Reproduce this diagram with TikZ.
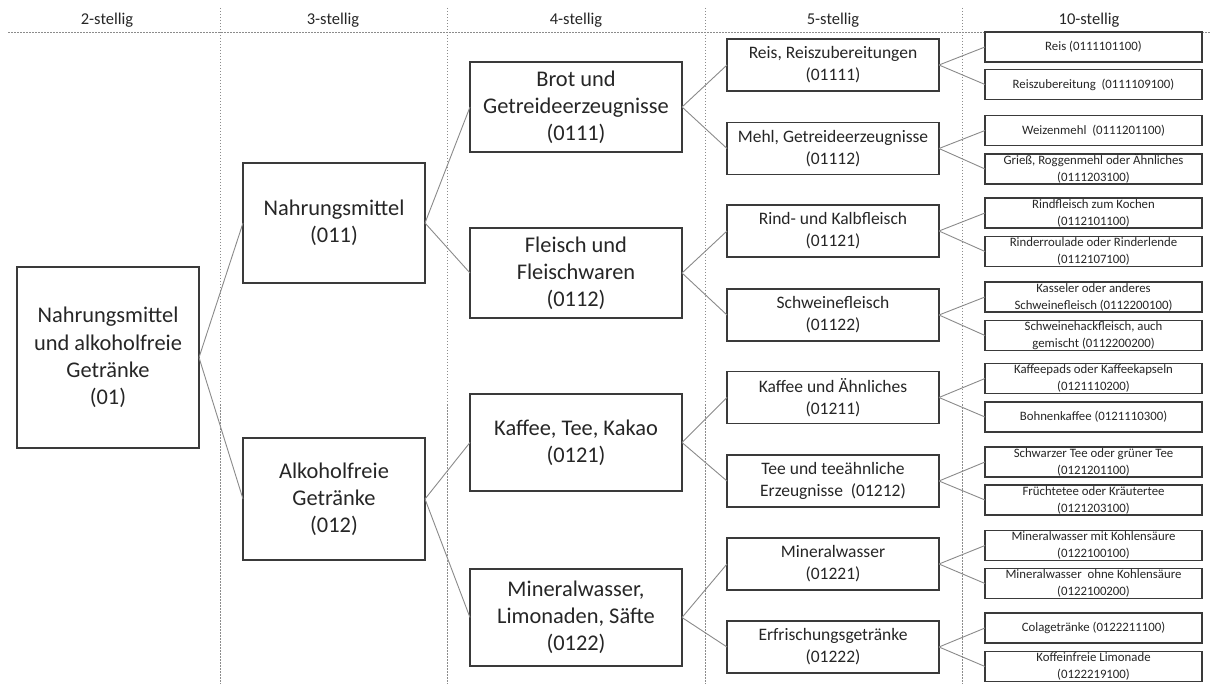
\documentclass[tikz,border=0pt]{standalone}
\usepackage{fontspec}
\setmainfont{Carlito}
\definecolor{boxc}{HTML}{3A3A3A}
\definecolor{txt}{HTML}{262626}
\definecolor{conc}{HTML}{8A8A8A}
\definecolor{divc}{HTML}{8C8C8C}
\tikzset{
  base/.style={draw=boxc, fill=white, text=txt, align=center, inner sep=0pt, outer sep=0pt},
  big/.style={base, line width=1.8pt, font=\fontsize{22.4}{27.2}\selectfont},
  mid/.style={base, line width=1.8pt, font=\fontsize{17.5}{22}\selectfont, minimum width=212pt, minimum height=52pt},
  small/.style={base, line width=1.5pt, font=\fontsize{12.8}{17}\selectfont, minimum width=217pt, minimum height=30pt},
  head/.style={text=txt, font=\fontsize{16.5}{20}\selectfont, inner sep=0pt},
  conn/.style={draw=conc, line width=0.9pt},
  divline/.style={draw=divc, line width=0.9pt, dash pattern=on 1.5pt off 1.5pt},
}
\begin{document}
\begin{tikzpicture}[x=1pt, y=-1pt]
\useasboundingbox (0,0) rectangle (1211,684);
% dividers
\draw[divline] (8,32) -- (1211,32);
\foreach \xx in {220,447,705,962} { \draw[divline] (\xx,8) -- (\xx,684); }
% headers
\node[head] (h2) at (107,20) {2-stellig};
\node[head] (h3) at (333,20) {3-stellig};
\node[head] (h4) at (576,20) {4-stellig};
\node[head] (h5) at (833,20) {5-stellig};
\node[head] (h10) at (1089,20) {10-stellig};
% 2-stellig
\node[big, minimum width=182pt, minimum height=181pt] (L) at (108,357.5) {Nahrungsmittel\\und alkoholfreie\\Getränke\\(01)};
% 3-stellig
\node[big, minimum width=182pt, minimum height=120pt] (N1) at (334,223) {Nahrungsmittel\\(011)};
\node[big, minimum width=182pt, minimum height=122pt] (N2) at (334,499) {Alkoholfreie\\Getränke\\(012)};
% 4-stellig
\node[big, minimum width=212pt, minimum height=90pt] (B1) at (576,107) {Brot und\\Getreideerzeugnisse\\(0111)};
\node[big, minimum width=212pt, minimum height=90pt] (B2) at (576,273) {Fleisch und\\Fleischwaren\\(0112)};
\node[big, minimum width=212pt, minimum height=97pt] (B3) at (576,442.5) {Kaffee, Tee, Kakao\\(0121)};
\node[big, minimum width=212pt, minimum height=97pt] (B4) at (576,617.5) {Mineralwasser,\\Limonaden, Säfte\\(0122)};
% 5-stellig
\node[mid] (C1) at (833,65) {Reis, Reiszubereitungen\\(01111)};
\node[mid] (C2) at (833,148.5) {Mehl, Getreideerzeugnisse\\(01112)};
\node[mid] (C3) at (833,231) {Rind- und Kalbfleisch\\(01121)};
\node[mid] (C4) at (833,315) {Schweinefleisch\\(01122)};
\node[mid] (C5) at (833,397.5) {Kaffee und Ähnliches\\(01211)};
\node[mid] (C6) at (833,481) {Tee und teeähnliche\\Erzeugnisse~ (01212)};
\node[mid] (C7) at (833,564) {Mineralwasser\\(01221)};
\node[mid] (C8) at (833,647) {Erfrischungsgetränke\\(01222)};
% 10-stellig
\node[small] (D1) at (1093.5,47) {Reis (0111101100)};
\node[small] (D2) at (1093.5,84.5) {Reiszubereitung~ (0111109100)};
\node[small] (D3) at (1093.5,130.5) {Weizenmehl~ (0111201100)};
\node[small] (D4) at (1093.5,169) {Grieß, Roggenmehl oder Ähnliches\\(0111203100)};
\node[small] (D5) at (1093.5,213) {Rindfleisch zum Kochen\\(0112101100)};
\node[small] (D6) at (1093.5,251.5) {Rinderroulade oder Rinderlende\\(0112107100)};
\node[small] (D7) at (1093.5,297) {Kasseler oder anderes\\Schweinefleisch (0112200100)};
\node[small] (D8) at (1093.5,335.5) {Schweinehackfleisch, auch\\gemischt (0112200200)};
\node[small] (D9) at (1093.5,378.5) {Kaffeepads oder Kaffeekapseln\\(0121110200)};
\node[small] (D10) at (1093.5,417) {Bohnenkaffee (0121110300)};
\node[small] (D11) at (1093.5,462) {Schwarzer Tee oder grüner Tee\\(0121201100)};
\node[small] (D12) at (1093.5,500) {Früchtetee oder Kräutertee\\(0121203100)};
\node[small] (D13) at (1093.5,545.5) {Mineralwasser mit Kohlensäure\\(0122100100)};
\node[small] (D14) at (1093.5,583.5) {Mineralwasser~ ohne Kohlensäure\\(0122100200)};
\node[small] (D15) at (1093.5,628) {Colagetränke (0122211100)};
\node[small] (D16) at (1093.5,666.5) {Koffeinfreie Limonade\\(0122219100)};
% connectors
\draw[conn] (L.east) -- (N1.west);
\draw[conn] (L.east) -- (N2.west);
\draw[conn] (N1.east) -- (B1.west);
\draw[conn] (N1.east) -- (B2.west);
\draw[conn] (N2.east) -- (B3.west);
\draw[conn] (N2.east) -- (B4.west);
\draw[conn] (B1.east) -- (C1.west);
\draw[conn] (B1.east) -- (C2.west);
\draw[conn] (B2.east) -- (C3.west);
\draw[conn] (B2.east) -- (C4.west);
\draw[conn] (B3.east) -- (C5.west);
\draw[conn] (B3.east) -- (C6.west);
\draw[conn] (B4.east) -- (C7.west);
\draw[conn] (B4.east) -- (C8.west);
\draw[conn] (C1.east) -- (D1.west);
\draw[conn] (C1.east) -- (D2.west);
\draw[conn] (C2.east) -- (D3.west);
\draw[conn] (C2.east) -- (D4.west);
\draw[conn] (C3.east) -- (D5.west);
\draw[conn] (C3.east) -- (D6.west);
\draw[conn] (C4.east) -- (D7.west);
\draw[conn] (C4.east) -- (D8.west);
\draw[conn] (C5.east) -- (D9.west);
\draw[conn] (C5.east) -- (D10.west);
\draw[conn] (C6.east) -- (D11.west);
\draw[conn] (C6.east) -- (D12.west);
\draw[conn] (C7.east) -- (D13.west);
\draw[conn] (C7.east) -- (D14.west);
\draw[conn] (C8.east) -- (D15.west);
\draw[conn] (C8.east) -- (D16.west);
\end{tikzpicture}
\end{document}
